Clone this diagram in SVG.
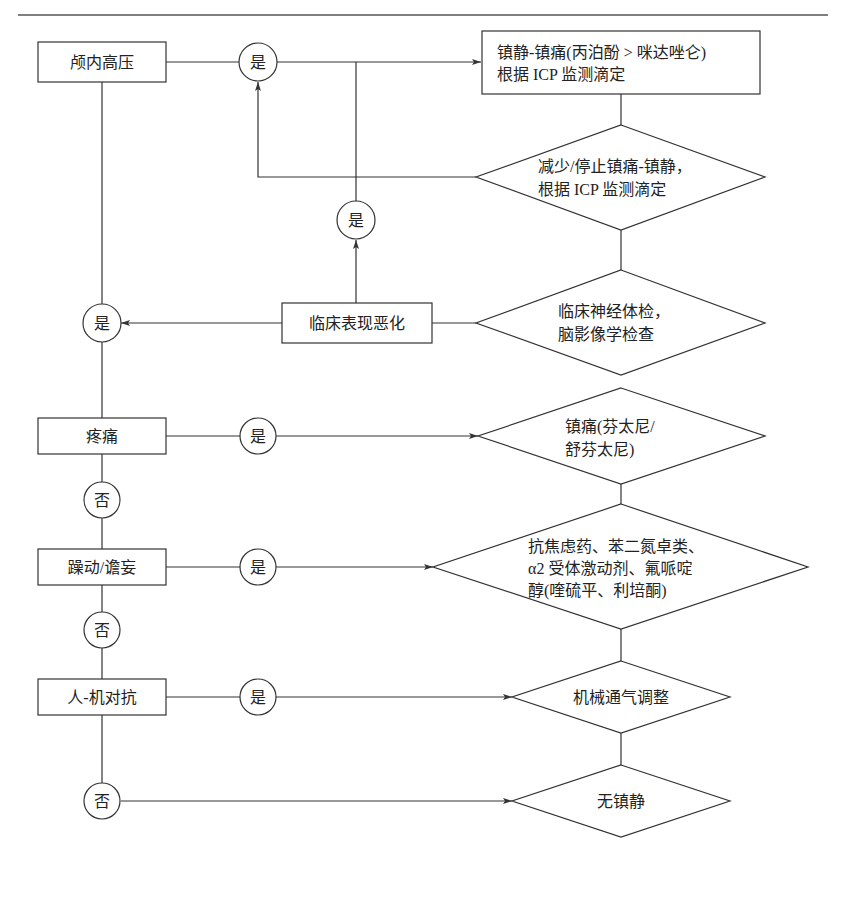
<svg xmlns="http://www.w3.org/2000/svg" width="844" height="922" viewBox="0 0 844 922">
<style>
.s{fill:#fff;stroke:#333;stroke-width:1.2}
.l{fill:none;stroke:#333;stroke-width:1.2}
text{font-family:"Liberation Serif","Noto Sans CJK SC",serif;font-size:16px;fill:#222}
.c{text-anchor:middle}
</style>
<defs>
<marker id="a" markerWidth="10" markerHeight="8" refX="9" refY="4" orient="auto" markerUnits="userSpaceOnUse">
<path d="M0,1 L9,4 L0,7 L2,4 Z" fill="#333"/>
</marker>
</defs>
<rect width="844" height="922" fill="#fff"/>
<line x1="18" y1="15" x2="828" y2="15" stroke="#555" stroke-width="1.5"/>
<g id="connectors">
<line class="l" x1="166" y1="62" x2="239" y2="62"/>
<line class="l" x1="277" y1="62" x2="481" y2="62" marker-end="url(#a)"/>
<line class="l" x1="356" y1="62" x2="356" y2="201"/>
<line class="l" x1="356" y1="303" x2="356" y2="240" marker-end="url(#a)"/>
<line class="l" x1="621" y1="94" x2="621" y2="125"/>
<polyline class="l" points="476,177 258,177 258,82" marker-end="url(#a)"/>
<line class="l" x1="621" y1="230" x2="621" y2="270"/>
<line class="l" x1="476" y1="323" x2="432" y2="323"/>
<line class="l" x1="282" y1="323" x2="121" y2="323" marker-end="url(#a)"/>
<line class="l" x1="102" y1="82" x2="102" y2="304"/>
<line class="l" x1="102" y1="342" x2="102" y2="418"/>
<line class="l" x1="166" y1="436" x2="240" y2="436"/>
<line class="l" x1="276" y1="436" x2="478" y2="436" marker-end="url(#a)"/>
<line class="l" x1="621" y1="484" x2="621" y2="504"/>
<line class="l" x1="102" y1="454" x2="102" y2="483"/>
<line class="l" x1="102" y1="518" x2="102" y2="549"/>
<line class="l" x1="166" y1="567" x2="240" y2="567"/>
<line class="l" x1="276" y1="567" x2="433" y2="567" marker-end="url(#a)"/>
<line class="l" x1="102" y1="585" x2="102" y2="613"/>
<line class="l" x1="102" y1="648" x2="102" y2="679"/>
<line class="l" x1="166" y1="697" x2="240" y2="697"/>
<line class="l" x1="276" y1="697" x2="512" y2="697" marker-end="url(#a)"/>
<line class="l" x1="621" y1="629" x2="621" y2="661"/>
<line class="l" x1="621" y1="733" x2="621" y2="765"/>
<line class="l" x1="102" y1="715" x2="102" y2="783"/>
<line class="l" x1="121" y1="801" x2="512" y2="801" marker-end="url(#a)"/>
</g>
<g id="n1"><rect class="s" x="38" y="42" width="128" height="40"/><text class="c" x="102" y="68">颅内高压</text></g>
<g id="y1"><ellipse class="s" cx="258" cy="62" rx="19" ry="19"/><text class="c" x="258" y="68">是</text></g>
<g id="n2"><rect class="s" x="482" y="31" width="278" height="63"/><text x="497" y="58">镇静-镇痛(丙泊酚 &gt; 咪达唑仑)</text><text x="497" y="80">根据 ICP 监测滴定</text></g>
<g id="d1"><polygon class="s" points="621,125 765,177 621,230 476,177"/><text x="538" y="172">减少/停止镇痛-镇静，</text><text x="538" y="195">根据 ICP 监测滴定</text></g>
<g id="y2"><ellipse class="s" cx="356" cy="220" rx="19" ry="19"/><text class="c" x="356" y="226">是</text></g>
<g id="d2"><polygon class="s" points="621,270 765,323 621,375 476,323"/><text x="558" y="317">临床神经体检，</text><text x="558" y="340">脑影像学检查</text></g>
<g id="n3"><rect class="s" x="282" y="303" width="150" height="40"/><text class="c" x="357" y="329">临床表现恶化</text></g>
<g id="y3"><ellipse class="s" cx="102" cy="323" rx="19" ry="19"/><text class="c" x="102" y="329">是</text></g>
<g id="n4"><rect class="s" x="38" y="418" width="128" height="36"/><text class="c" x="102" y="442">疼痛</text></g>
<g id="y4"><ellipse class="s" cx="258" cy="436" rx="18" ry="18"/><text class="c" x="258" y="442">是</text></g>
<g id="d3"><polygon class="s" points="621,388 765,436 621,484 478,436"/><text x="565" y="432">镇痛(芬太尼/</text><text x="565" y="455">舒芬太尼)</text></g>
<g id="f1"><ellipse class="s" cx="102" cy="500" rx="18" ry="18"/><text class="c" x="102" y="506">否</text></g>
<g id="n5"><rect class="s" x="38" y="549" width="128" height="36"/><text class="c" x="102" y="573">躁动/谵妄</text></g>
<g id="y5"><ellipse class="s" cx="258" cy="567" rx="18" ry="18"/><text class="c" x="258" y="573">是</text></g>
<g id="d4"><polygon class="s" points="621,504 808,567 621,629 433,567"/><text x="528" y="552">抗焦虑药、苯二氮卓类、</text><text x="528" y="574">α2 受体激动剂、氟哌啶</text><text x="528" y="596">醇(喹硫平、利培酮)</text></g>
<g id="f2"><ellipse class="s" cx="102" cy="630" rx="18" ry="18"/><text class="c" x="102" y="636">否</text></g>
<g id="n6"><rect class="s" x="38" y="679" width="128" height="36"/><text class="c" x="102" y="703">人-机对抗</text></g>
<g id="y6"><ellipse class="s" cx="258" cy="697" rx="18" ry="18"/><text class="c" x="258" y="703">是</text></g>
<g id="d5"><polygon class="s" points="621,661 730,697 621,733 512,697"/><text class="c" x="621" y="703">机械通气调整</text></g>
<g id="f3"><ellipse class="s" cx="102" cy="801" rx="18" ry="18"/><text class="c" x="102" y="807">否</text></g>
<g id="d6"><polygon class="s" points="621,765 730,801 621,837 512,801"/><text class="c" x="621" y="807">无镇静</text></g>
</svg>
